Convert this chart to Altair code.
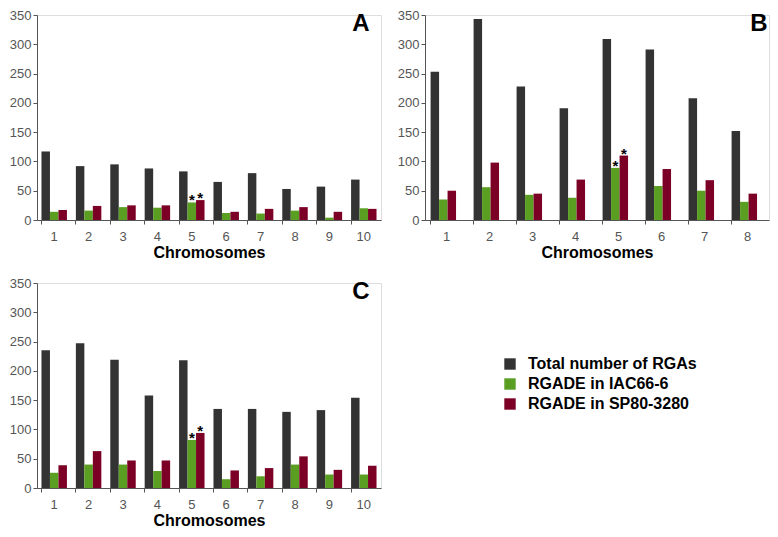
import altair as alt
import pandas as pd

chromA = ["1", "2", "3", "4", "5", "6", "7", "8", "9", "10"]
A_total = [117, 92, 95, 88, 83, 65, 80, 53, 57, 69]
A_iac = [14, 16, 22, 21, 30, 12, 11, 16, 4, 20]
A_sp = [17, 24, 25, 25, 34, 14, 19, 22, 14, 19]

chromB = ["1", "2", "3", "4", "5", "6", "7", "8"]
B_total = [253, 343, 228, 191, 309, 291, 208, 152]
B_iac = [35, 56, 43, 38, 89, 58, 50, 31]
B_sp = [50, 98, 45, 69, 110, 87, 68, 45]

chromC = ["1", "2", "3", "4", "5", "6", "7", "8", "9", "10"]
C_total = [235, 247, 219, 158, 218, 135, 135, 130, 133, 154]
C_iac = [26, 40, 40, 29, 82, 15, 20, 40, 23, 23]
C_sp = [39, 63, 47, 47, 94, 30, 34, 54, 31, 38]

series = ["Total number of RGAs", "RGADE in IAC66-6", "RGADE in SP80-3280"]
colors = ["#333333", "#5a9e22", "#7c0025"]
star_chrom = "5"
y_ticks = [0, 50, 100, 150, 200, 250, 300, 350]

FONT = "Liberation Sans"


def panel(chroms, tot, iac, sp, letter, w, h, letter_dx):
    rows = []
    for c, a, b, d in zip(chroms, tot, iac, sp):
        rows.append({"chrom": c, "series": series[0], "value": a})
        rows.append({"chrom": c, "series": series[1], "value": b})
        rows.append({"chrom": c, "series": series[2], "value": d})
    df = pd.DataFrame(rows)
    x = alt.X(
        "chrom:N",
        sort=chroms,
        scale=alt.Scale(paddingInner=0.26, paddingOuter=0.13),
        axis=alt.Axis(
            title="Chromosomes",
            titleFontSize=16,
            titleFontWeight="bold",
            titleColor="#000000",
            titleFont=FONT,
            titlePadding=1,
            labelFont=FONT,
            labelFontSize=13,
            labelColor="#555555",
            labelAngle=0,
            labelPadding=6,
            tickSize=4,
            tickColor="#555555",
            domainColor="#555555",
            bandPosition=0,
        ),
    )
    xo = alt.XOffset("series:N", sort=series, scale=alt.Scale(paddingInner=0, paddingOuter=0))
    y = alt.Y(
        "value:Q",
        scale=alt.Scale(domain=[0, 350], nice=False),
        axis=alt.Axis(
            title=None,
            values=y_ticks,
            labelOverlap=False,
            labelFont=FONT,
            labelFontSize=13,
            labelColor="#555555",
            labelPadding=2,
            tickSize=4,
            tickColor="#555555",
            domainColor="#555555",
            grid=False,
        ),
    )
    bars = alt.Chart(df).mark_bar().encode(
        x=x,
        xOffset=xo,
        y=y,
        color=alt.Color(
            "series:N",
            sort=series,
            scale=alt.Scale(domain=series, range=colors),
            legend=alt.Legend(
                title=None,
                orient="none",
                legendX=465,
                legendY=341,
                symbolType="square",
                symbolSize=130,
                symbolStrokeWidth=0,
                labelFont=FONT,
                labelFontSize=16,
                labelFontWeight="bold",
                labelColor="#000000",
                labelOffset=10,
                rowPadding=4,
                padding=0,
                labelLimit=400,
            ),
        ),
    )
    sdf = df[(df["chrom"] == star_chrom) & (df["series"] != series[0])]
    stars = alt.Chart(sdf).mark_text(
        text="*", font=FONT, fontSize=15, fontWeight="bold", baseline="alphabetic", dy=3, color="#000000"
    ).encode(x=x, xOffset=xo, y=y)
    lab = alt.Chart(pd.DataFrame({"t": [letter]})).mark_text(
        font=FONT, fontSize=24, fontWeight="bold", color="#000000", align="center", baseline="middle"
    ).encode(text="t:N", x=alt.value(w - letter_dx), y=alt.value(9))
    return alt.layer(bars, stars, lab).properties(width=w, height=h)


pA = panel(chromA, A_total, A_iac, A_sp, "A", 344, 205, 20)
pB = panel(chromB, B_total, B_iac, B_sp, "B", 344, 205, 10)
pC = panel(chromC, C_total, C_iac, C_sp, "C", 344, 205, 20)

row1 = alt.hconcat(pA, pB, spacing=14)
row2 = alt.hconcat(pC, spacing=14)
chart = (
    alt.vconcat(row1, row2, spacing=15)
    .properties(padding=0)
    .configure_view(stroke="transparent", strokeWidth=0)
    .configure(font=FONT)
)

chart.save("out.html", embed_options={"renderer": "svg", "actions": False})
